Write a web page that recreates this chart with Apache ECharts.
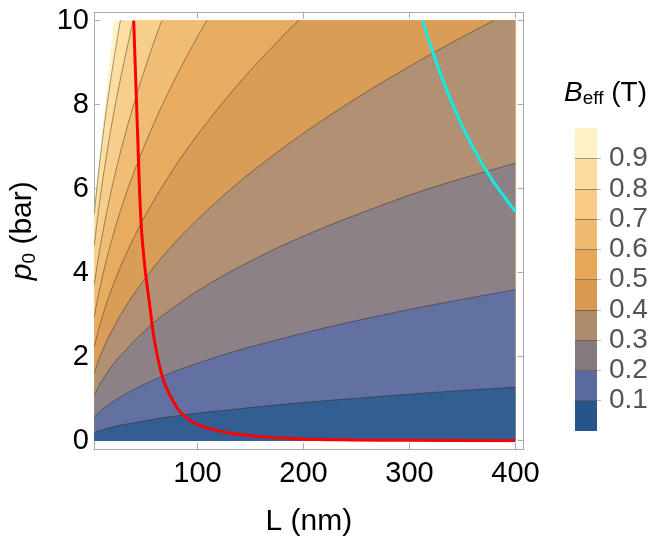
<!DOCTYPE html>
<html>
<head>
<meta charset="utf-8">
<script src="https://cdn.jsdelivr.net/npm/echarts@6/dist/echarts.min.js"></script>
<style>
html, body { margin: 0; padding: 0; background: #fff; }
#main { width: 665px; height: 542px; }
</style>
</head>
<body>
<div id="main"></div>
<script>
var L_GRID = [10, 13, 17, 22, 28, 35, 44, 55, 70, 90, 115, 145, 180, 220, 265, 310, 355, 400];

// p0 (bar) of each contour at L_GRID (values above 10 run off the top of the plot)
var C_EDGE = [5.5, 6.25, 7.25, 8.5, 10.0, 11.8, 14, 16.8, 20.5, 25, 31, 38, 46, 55, 66, 77, 88, 99];
var C_09 = [5.41, 6.17, 7.06, 8.03, 9.06, 10.13, 11.36, 12.7, 14.3, 16.2, 18.4, 20.6, 23, 25.4, 27.9, 30.1, 32.3, 34.2];
var C_08 = [4.66, 5.31, 6.07, 6.91, 7.80, 8.71, 9.77, 10.92, 12.32, 13.97, 15.8, 17.7, 19.8, 21.8, 24.0, 25.9, 27.8, 29.5];
var C_07 = [3.72, 4.24, 4.84, 5.51, 6.22, 6.95, 7.79, 8.71, 9.83, 11.15, 12.60, 14.15, 15.76, 17.43, 19.13, 20.69, 22.14, 23.5];
var C_06 = [2.96, 3.38, 3.86, 4.39, 4.95, 5.54, 6.21, 6.94, 7.83, 8.88, 10.04, 11.27, 12.56, 13.88, 15.24, 16.48, 17.64, 18.72];
var C_05 = [2.24, 2.56, 2.92, 3.33, 3.75, 4.19, 4.70, 5.26, 5.93, 6.73, 7.60, 8.54, 9.51, 10.52, 11.54, 12.48, 13.36, 14.18];
var C_04 = [1.62, 1.85, 2.12, 2.41, 2.71, 3.03, 3.40, 3.80, 4.29, 4.87, 5.50, 6.18, 6.88, 7.61, 8.35, 9.03, 9.67, 10.26];
var C_03 = [1.09, 1.25, 1.43, 1.63, 1.84, 2.05, 2.30, 2.58, 2.92, 3.30, 3.72, 4.15, 4.60, 5.05, 5.50, 5.92, 6.28, 6.61];
var C_02 = [0.57, 0.65, 0.74, 0.84, 0.95, 1.06, 1.19, 1.33, 1.51, 1.71, 1.93, 2.17, 2.41, 2.67, 2.93, 3.17, 3.39, 3.60];
var C_01 = [0.20, 0.23, 0.26, 0.30, 0.34, 0.38, 0.42, 0.47, 0.54, 0.61, 0.69, 0.77, 0.86, 0.95, 1.04, 1.13, 1.21, 1.28];

// red and cyan curves
var RED_L = [46.5, 50, 53.3, 57, 61, 66, 74, 83, 90, 100, 110, 125, 140, 160, 200, 250, 300, 400];
var RED_P = [10, 7.4, 5.2, 4.1, 3.3, 2.35, 1.45, 0.95, 0.68, 0.47, 0.35, 0.24, 0.17, 0.11, 0.05, 0.025, 0.015, 0.005];
var CYAN_L = [314, 320, 330, 340, 350, 360, 370, 380, 390, 400];
var CYAN_P = [10.0, 9.52, 8.78, 8.12, 7.54, 7.02, 6.56, 6.16, 5.80, 5.46];

// ticks and legend levels
var X_TICKS = [100, 200, 300, 400];
var Y_TICKS = [0, 2, 4, 6, 8, 10];
var LEVELS = [0.1, 0.2, 0.3, 0.4, 0.5, 0.6, 0.7, 0.8, 0.9];

// band colours, lowest band first
var BANDS = ['#27558b', '#5a6a9c', '#857a80', '#ae8a6c', '#d8984f', '#e6a858', '#efba6f', '#f7cb85', '#fcdc9e', '#fef1c5'];

var FONT = 'Liberation Sans, Arial, sans-serif';
var FRAME = '#aaaaaa';

var plot = { left: 94.3, top: 20.7, width: 421, height: 420.3 };
var pad = 8.3;
var xPad = pad * 390 / plot.width;
var yPad = pad * 10 / plot.height;

var chart = echarts.init(document.getElementById('main'));

function pairs(xs, ys) {
    return xs.map(function (x, i) { return [x, ys[i]]; });
}

// the plot's faint white mesh makes its fills a touch paler than the legend
function pale(hex, t) {
    var n = parseInt(hex.slice(1), 16);
    var r = (n >> 16) & 255, g = (n >> 8) & 255, b = n & 255;
    r = Math.round(r + (255 - r) * t);
    g = Math.round(g + (255 - g) * t);
    b = Math.round(b + (255 - b) * t);
    return 'rgb(' + r + ',' + g + ',' + b + ')';
}

var contours = [C_EDGE, C_09, C_08, C_07, C_06, C_05, C_04, C_03, C_02, C_01];
var series = [];

contours.forEach(function (c, i) {
    series.push({
        type: 'line',
        xAxisIndex: 2,
        yAxisIndex: 2,
        data: pairs(L_GRID, c),
        smooth: 0.3,
        showSymbol: false,
        clip: true,
        silent: true,
        lineStyle: { width: i === 0 ? 0 : 0.8, color: 'rgba(45,30,15,0.55)' },
        areaStyle: { color: pale(BANDS[9 - i], 0.05), opacity: 1 },
        z: 2
    });
});

series.push({
    type: 'line', xAxisIndex: 2, yAxisIndex: 2,
    data: pairs(RED_L, RED_P),
    smooth: 0.4, showSymbol: false, clip: true, silent: true,
    lineStyle: { width: 3, color: '#ff0000' }, z: 5
});
series.push({
    type: 'line', xAxisIndex: 2, yAxisIndex: 2,
    data: pairs(CYAN_L, CYAN_P),
    smooth: false, showSymbol: false, clip: true, silent: true,
    lineStyle: { width: 3, color: '#10ece6', join: 'round' }, z: 5
});

// legend colour bar as stacked bars
BANDS.forEach(function (col) {
    series.push({
        type: 'bar', xAxisIndex: 3, yAxisIndex: 3,
        stack: 'legend', barWidth: '100%',
        data: [0.1], silent: true,
        itemStyle: { color: col }
    });
});

function frameAxis(extra) {
    var a = {
        gridIndex: 0,
        type: 'value',
        axisLine: { show: true, onZero: false, lineStyle: { color: FRAME, width: 1 } },
        axisTick: { show: true, inside: true, length: 6, lineStyle: { color: FRAME, width: 1 } },
        axisLabel: { show: false },
        splitLine: { show: false }
    };
    for (var k in extra) a[k] = extra[k];
    return a;
}

var option = {
    animation: false,
    backgroundColor: '#fff',
    title: {
        text: '{b|B}{s|eff}{n| (T)}',
        left: 564,
        top: 78,
        padding: 0,
        textStyle: {
            fontWeight: 'normal',
            rich: {
                b: { fontFamily: FONT, fontSize: 28, fontStyle: 'italic', fontWeight: 'normal', color: '#000', lineHeight: 30 },
                s: { fontFamily: FONT, fontSize: 19, fontWeight: 'normal', color: '#000', lineHeight: 19, verticalAlign: 'bottom' },
                n: { fontFamily: FONT, fontSize: 28, fontWeight: 'normal', color: '#000', lineHeight: 30 }
            }
        }
    },
    grid: [
        { left: plot.left - pad, top: plot.top - pad, width: plot.width + 2 * pad, height: plot.height + 2 * pad },
        { left: plot.left, top: plot.top, width: plot.width, height: plot.height },
        { left: 575, top: 128.3, width: 22, height: 302.7 }
    ],
    xAxis: [
        frameAxis({
            min: 10 - xPad, max: 400 + xPad, position: 'bottom',
            axisTick: { show: true, inside: true, length: 6, lineStyle: { color: FRAME }, customValues: X_TICKS },
            axisLabel: { show: true, customValues: X_TICKS, fontSize: 29, color: '#000', fontFamily: FONT, margin: 10 },
            name: 'L (nm)', nameLocation: 'middle', nameGap: 58,
            nameTextStyle: { fontSize: 30, color: '#000', fontFamily: FONT }
        }),
        frameAxis({
            min: 10 - xPad, max: 400 + xPad, position: 'top',
            axisTick: { show: true, inside: true, length: 6, lineStyle: { color: FRAME }, customValues: X_TICKS }
        }),
        { gridIndex: 1, type: 'value', min: 10, max: 400, show: false },
        { gridIndex: 2, type: 'category', data: ['B'], show: false }
    ],
    yAxis: [
        frameAxis({
            min: -yPad, max: 10 + yPad, position: 'left',
            axisTick: { show: true, inside: true, length: 6, lineStyle: { color: FRAME }, customValues: Y_TICKS },
            axisLabel: { show: true, customValues: Y_TICKS, fontSize: 29, color: '#000', fontFamily: FONT, margin: 5 },
            name: '{i|p}{s|0}{n| (bar)}', nameLocation: 'middle', nameGap: 55,
            nameTextStyle: {
                rich: {
                    i: { fontFamily: FONT, fontSize: 30, fontStyle: 'italic', color: '#000', lineHeight: 32 },
                    s: { fontFamily: FONT, fontSize: 19, color: '#000', lineHeight: 19, verticalAlign: 'bottom' },
                    n: { fontFamily: FONT, fontSize: 30, color: '#000', lineHeight: 32 }
                }
            }
        }),
        frameAxis({
            min: -yPad, max: 10 + yPad, position: 'right',
            axisTick: { show: true, inside: true, length: 6, lineStyle: { color: FRAME }, customValues: Y_TICKS }
        }),
        { gridIndex: 1, type: 'value', min: 0, max: 10, show: false },
        {
            gridIndex: 2, type: 'value', min: 0, max: 1, position: 'left', z: 10,
            axisLine: { show: false },
            axisTick: { show: true, inside: true, length: 22, lineStyle: { color: 'rgba(60,40,20,0.45)', width: 1 }, customValues: LEVELS },
            axisLabel: { show: false },
            splitLine: { show: false }
        },
        {
            gridIndex: 2, type: 'value', min: 0, max: 1, position: 'right',
            axisLine: { show: false },
            axisTick: { show: true, length: 4, lineStyle: { color: '#bbbbbb', width: 1 }, customValues: LEVELS },
            axisLabel: {
                show: true, customValues: LEVELS, margin: 12,
                fontSize: 28, color: '#555555', fontFamily: FONT,
                formatter: function (v) { return v.toFixed(1); }
            },
            splitLine: { show: false }
        }
    ],
    series: series
};

chart.setOption(option);
</script>
</body>
</html>
